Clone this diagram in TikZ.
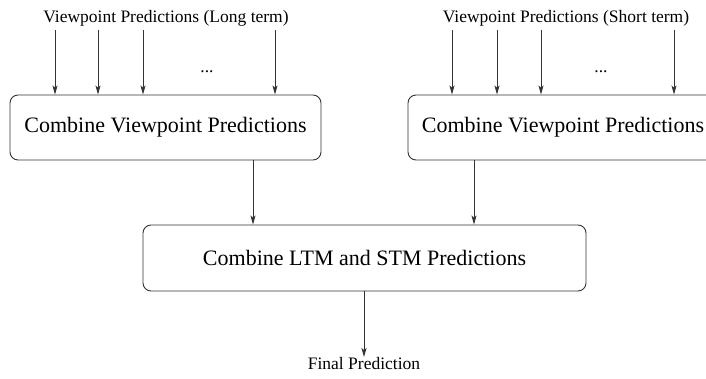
\documentclass[tikz,border=0pt]{standalone}
\usepackage{fontspec}
\setmainfont{Liberation Serif}
\usetikzlibrary{arrows.meta,calc}
\definecolor{linegray}{HTML}{333333}
\tikzset{
  line/.style={draw=linegray, -{Stealth[length=9pt,width=5pt,inset=2pt]}, line width=0.9pt},
  box/.style={
    draw=linegray,
    rounded corners=8pt,
    line width=0.9pt,
    align=center,
    font=\fontsize{22}{26}\selectfont,
    inner sep=0pt
  },
  lbl/.style={font=\fontsize{17.5}{20}\selectfont, inner sep=0pt}
}

\begin{document}
\begin{tikzpicture}[x=1pt,y=-1pt]
  \clip (0,0) rectangle (706,378);

  \node[lbl] (ltlabel) at (166,18) {Viewpoint Predictions (Long term)};
  \node[lbl] (stlabel) at (566,18) {Viewpoint Predictions (Short term)};

  \node[box, minimum width=311pt, minimum height=65pt] (ltm) at (165.5,127.5)
    {Combine Viewpoint Predictions};
  \node[box, minimum width=310pt, minimum height=65pt] (stm) at (563,127.5)
    {Combine Viewpoint Predictions};
  \node[box, minimum width=443pt, minimum height=66pt] (comb) at (364.5,258)
    {Combine LTM and STM Predictions};
  \node[lbl, anchor=north] (final) at (364,357) {Final Prediction};

  \node[font=\fontsize{17.5}{20}\selectfont] (ltdots) at (207,72) {...};
  \node[font=\fontsize{17.5}{20}\selectfont] (stdots) at (601,72) {...};

  \foreach \x in {55,98,143,275} {
    \coordinate (lt\x) at (\x,30);
    \draw[line] (lt\x) -- (ltm.north -| lt\x);
  }
  \foreach \x in {452,497,541,674} {
    \coordinate (st\x) at (\x,30);
    \draw[line] (st\x) -- (stm.north -| st\x);
  }

  \draw[line] (ltm.south -| 253,0) -- (comb.north -| 253,0);
  \draw[line] (stm.south -| 474,0) -- (comb.north -| 474,0);
  \draw[line] (comb.south -| final) -- (final.north);
\end{tikzpicture}
\end{document}
